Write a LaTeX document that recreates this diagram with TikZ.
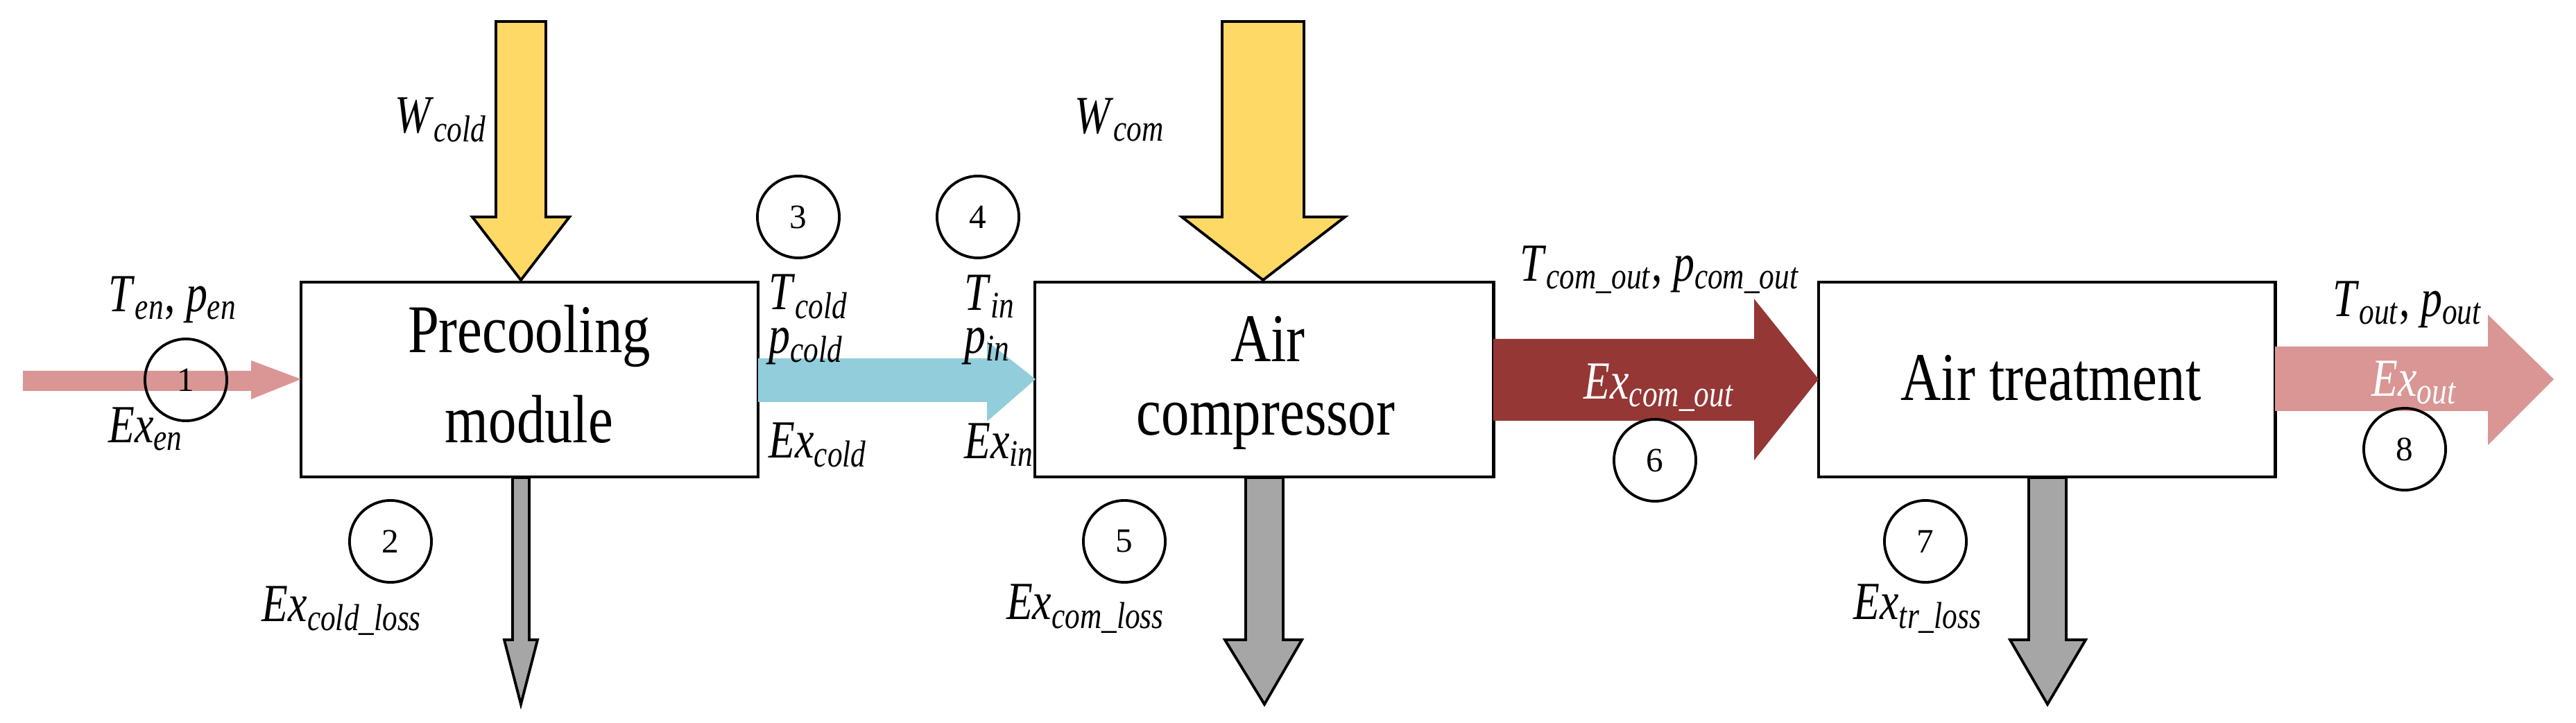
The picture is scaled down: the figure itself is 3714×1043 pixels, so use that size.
\documentclass[tikz,border=0pt]{standalone}
\usepackage{fontspec}
\setmainfont{Liberation Serif}
\newcommand\vs[2]{\textit{#1}\textsubscript{\textit{#2}}}
\definecolor{cpink}{HTML}{D99694}
\definecolor{cblue}{HTML}{92CDDC}
\definecolor{cred}{HTML}{953735}
\definecolor{cyel}{HTML}{FFD966}
\definecolor{cgray}{HTML}{A6A6A6}
\begin{document}
\begin{tikzpicture}[x=0.01cm,y=-0.01cm,
  box/.style={draw,line width=1.3pt,fill=white,inner sep=0pt},
  big/.style={font=\fontsize{28}{31}\selectfont,align=center,transform shape,xscale=0.82},
  lbl/.style={font=\fontsize{22}{24}\selectfont,inner sep=0pt,transform shape,xscale=0.8},
  wl/.style={lbl,text=white},
  num/.style={draw,circle,line width=1.1pt,minimum size=1.18cm,inner sep=0pt,font=\fontsize{14}{15}\selectfont},
  outl/.style={draw,line width=1.1pt,line join=miter}]
\useasboundingbox (0,0) rectangle (3714,1043);
% boxes
\node[box,minimum width=6.59cm,minimum height=2.81cm] (pre) at (763.5,547.5) {};
\node[box,minimum width=6.61cm,minimum height=2.81cm] (com) at (1822.5,547.5) {};
\node[box,minimum width=6.58cm,minimum height=2.81cm] (tr) at (2951,547.5) {};
\node[big] (t1) at (763,485) {Precooling};
\node[big] (t2) at (763,605) {module};
\node[big] (t3) at (1828,489) {Air};
\node[big] (t4) at (1825,615) {compressor};
\node[big] (t5) at (2957,545) {Air treatment};
% flow arrows (no outline)
\fill[cpink] (33,535) -- (362,535) -- (362,520) -- (434,547) -- (362,576) -- (362,564) -- (33,564) -- cycle;
\fill[cblue] (1093,517) -- (1423,517) -- (1423,492) -- (1493,547) -- (1423,608) -- (1423,580) -- (1093,580) -- cycle;
\fill[cred] (2153,489) -- (2529,489) -- (2529,431) -- (2622,547) -- (2529,664) -- (2529,607) -- (2153,607) -- cycle;
\fill[cpink] (3280,500) -- (3587,500) -- (3587,454) -- (3682,547) -- (3587,642) -- (3587,593) -- (3280,593) -- cycle;
% work arrows
\draw[outl,fill=cyel] (715,31) -- (787,31) -- (787,313) -- (821,313) -- (751,404) -- (681,313) -- (715,313) -- cycle;
\draw[outl,fill=cyel] (1762,31) -- (1880,31) -- (1880,313) -- (1939,313) -- (1821,404) -- (1704,313) -- (1762,313) -- cycle;
% loss arrows
\draw[outl,fill=cgray] (739,689) -- (763,689) -- (763,923) -- (775,923) -- (751,1016) -- (727,923) -- (739,923) -- cycle;
\draw[outl,fill=cgray] (1796,689) -- (1850,689) -- (1850,923) -- (1877,923) -- (1823,1016) -- (1766,923) -- (1796,923) -- cycle;
\draw[outl,fill=cgray] (2925,689) -- (2979,689) -- (2979,923) -- (3007,923) -- (2952,1016) -- (2898,923) -- (2925,923) -- cycle;
% circles
\node[num] (n1) at (268,548) {1};
\node[num] (n2) at (563,781) {2};
\node[num] (n3) at (1151,313) {3};
\node[num] (n4) at (1410,313) {4};
\node[num] (n5) at (1621,781) {5};
\node[num] (n6) at (2386,664) {6};
\node[num] (n7) at (2776,781) {7};
\node[num] (n8) at (3467,648) {8};
% labels
\node[lbl,anchor=east] (l1) at (702,173) {\vs{W}{cold}};
\node[lbl] (l2) at (249,432) {\vs{T}{en}, \vs{p}{en}};
\node[lbl] (l3) at (210,619) {\vs{Ex}{en}};
\node[lbl] (l4) at (493,881) {\vs{Ex}{cold\_loss}};
\node[lbl,anchor=west] (l5) at (1108,428) {\vs{T}{cold}};
\node[lbl,anchor=west] (l6) at (1108,500) {\vs{p}{cold}};
\node[lbl,anchor=west] (l7) at (1108,642) {\vs{Ex}{cold}};
\node[lbl,anchor=west] (l8) at (1390,428) {\vs{T}{in}};
\node[lbl,anchor=west] (l9) at (1390,500) {\vs{p}{in}};
\node[lbl,anchor=west] (l10) at (1390,642) {\vs{Ex}{in}};
\node[lbl] (l11) at (1614,173) {\vs{W}{com}};
\node[lbl] (l12) at (2393,389) {\vs{T}{com\_out}, \vs{p}{com\_out}};
\node[wl] (l13) at (2392,559) {\vs{Ex}{com\_out}};
\node[lbl] (l14) at (1565,878) {\vs{Ex}{com\_loss}};
\node[lbl] (l15) at (2765,878) {\vs{Ex}{tr\_loss}};
\node[lbl] (l16) at (3471,439) {\vs{T}{out}, \vs{p}{out}};
\node[wl] (l17) at (3481,552) {\vs{Ex}{out}};
\end{tikzpicture}
\end{document}
